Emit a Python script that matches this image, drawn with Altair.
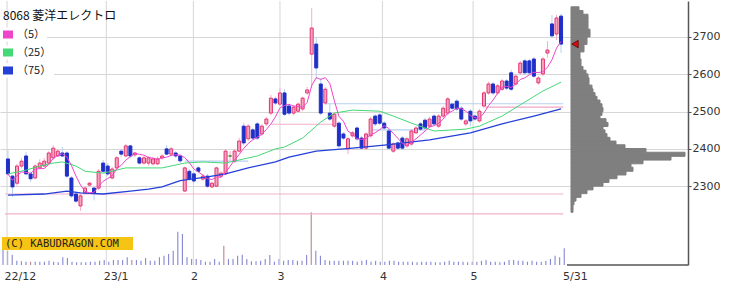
import altair as alt
import pandas as pd
import numpy as np

# ---------------- data ----------------
opens = [2373,2327,2308,2354,2381,2333,2322,2349,2354,2362,2376,2381,2389,2389,2322,2279,2247,2282,2303,2295,
         2295,2362,2354,2322,2349,2394,2381,2408,2384,2376,2362,2362,2360,2360,2376,2400,2386,2389,2381,2287,
         2340,2333,2349,2319,2327,2298,2300,2327,2333,2381,2367,2394,2461,2427,2451,2467,2440,2467,2496,2534,
         2520,2550,2515,2496,2501,2507,2550,2654,2681,2574,2523,2496,2461,2469,2440,2400,2435,2456,2429,2402,
         2435,2488,2491,2469,2448,2394,2416,2429,2408,2413,2443,2467,2477,2461,2488,2461,2488,2496,2520,2528,
         2509,2467,2501,2488,2475,2515,2550,2574,2550,2560,2582,2604,2574,2604,2636,2636,2641,2577,2601,2657,
         2735,2708,2756]
highs = [2397,2330,2360,2375,2392,2340,2358,2372,2375,2394,2410,2400,2405,2394,2327,2285,2279,2300,2312,2298,
         2346,2370,2362,2352,2381,2400,2413,2410,2392,2381,2381,2381,2378,2380,2386,2410,2405,2394,2386,2352,
         2346,2338,2354,2333,2333,2312,2352,2340,2400,2394,2400,2430,2470,2467,2456,2472,2467,2486,2545,2540,
         2563,2560,2520,2518,2525,2540,2566,2778,2697,2590,2566,2520,2498,2475,2445,2432,2448,2461,2435,2445,
         2486,2493,2496,2475,2453,2418,2421,2435,2432,2453,2461,2472,2483,2486,2493,2493,2515,2539,2525,2534,
         2515,2480,2507,2493,2507,2555,2580,2580,2574,2587,2587,2612,2600,2636,2641,2641,2646,2595,2646,2689,
         2759,2759,2762]
lows = [2327,2271,2300,2348,2330,2312,2318,2345,2350,2358,2370,2378,2378,2322,2268,2255,2234,2278,2298,2262,
        2290,2335,2327,2318,2345,2378,2378,2376,2378,2358,2358,2355,2355,2356,2370,2383,2381,2376,2362,2284,
        2314,2308,2335,2314,2295,2295,2298,2322,2330,2368,2362,2390,2410,2421,2424,2424,2435,2461,2490,2518,
        2515,2488,2490,2490,2496,2501,2545,2563,2587,2490,2518,2475,2455,2402,2424,2386,2430,2421,2397,2397,
        2430,2461,2464,2451,2397,2389,2397,2397,2402,2408,2440,2448,2451,2456,2461,2456,2483,2490,2504,2501,
        2475,2461,2461,2475,2470,2509,2545,2545,2545,2555,2558,2555,2569,2598,2598,2598,2590,2571,2595,2644,
        2697,2692,2657]
closes = [2333,2298,2354,2367,2333,2320,2354,2362,2367,2389,2402,2394,2381,2327,2274,2260,2274,2295,2308,2282,
          2340,2340,2333,2346,2376,2386,2408,2381,2389,2362,2376,2376,2373,2373,2381,2386,2400,2381,2368,2349,
          2319,2314,2340,2327,2300,2308,2349,2335,2394,2381,2394,2421,2416,2461,2429,2429,2461,2480,2536,2523,
          2550,2493,2496,2512,2520,2536,2558,2724,2617,2496,2560,2480,2493,2408,2429,2427,2443,2427,2402,2440,
          2480,2467,2469,2456,2402,2413,2402,2402,2427,2448,2456,2453,2456,2480,2467,2488,2509,2534,2509,2507,
          2480,2475,2475,2480,2501,2550,2574,2550,2569,2582,2563,2560,2595,2630,2604,2604,2595,2590,2641,2665,
          2703,2751,2681]
volumes = [240,215,155,65,55,50,50,50,50,50,65,50,40,115,105,50,40,40,40,50,
           50,65,75,50,75,75,75,115,75,75,65,105,65,65,115,140,165,215,500,465,
           115,90,90,75,50,50,90,50,290,90,90,140,155,90,55,55,65,90,150,50,
           90,65,75,75,65,65,150,790,215,140,75,65,65,65,65,65,65,50,65,75,
           50,65,50,50,65,65,50,50,50,50,40,50,50,50,40,40,50,65,50,50,
           50,40,50,50,65,75,50,50,40,50,75,75,65,65,50,65,50,50,65,90,
           140,115,250]
vol_brown_days = [6, 28, 48, 67]

ma25_days = [0,4,7,10,12,15,17,21,26,30,34,39,43,48,52,55,59,61,65,69,72,76,82,85,89,94,101,104,109,113,118,122]
ma25_vals = [2333,2343,2354,2362,2365,2354,2340,2335,2349,2349,2349,2362,2365,2362,2373,2381,2400,2405,2429,2472,
             2496,2504,2501,2488,2469,2448,2453,2461,2488,2518,2555,2579]
ma75_days = [0,8,13,16,21,27,31,34,38,44,48,53,59,62,68,76,83,93,102,109,116,122]
ma75_vals = [2276,2279,2287,2282,2279,2287,2292,2298,2315,2325,2333,2349,2365,2378,2394,2402,2410,2424,2443,2467,
             2488,2507]

month_pos = [-0.2, 21.7, 40.9, 60.0, 82.6, 102.6]
xtick_pos = month_pos + [123.0]
xtick_labels = ["22/12", "23/1", "2", "3", "4", "5", "5/31"]
y_ticks = [2300, 2400, 2500, 2600, 2700]

# price profile: lower edge of each 10-yen bin and its bar length
prof_low = [2770,2760,2750,2740,2730,2720,2710,2700,2690,2680,2670,2660,2650,2640,2630,2620,2610,2600,2590,2580,
            2570,2560,2550,2540,2530,2520,2510,2500,2490,2480,2470,2460,2450,2440,2430,2420,2410,2400,2390,2380,
            2370,2360,2350,2340,2330,2320,2310,2300,2290,2280,2270,2260,2250,2240,2230]
prof_vol = [8,12,17,17,17,17,19,19,16,16,13,13,9,9,10,10,12,15,17,18,
            18,21,22,24,26,29,31,32,31,29,35,37,32,34,36,39,45,54,75,114,
            100,72,60,62,55,46,38,32,22,16,10,5,3,2,2]

line_price = [2279, 2226, 2521, 2512, 2451, 2466, 2367]
line_from = [-0.65, -0.65, 70, 105.3, 80, 58, 39]
line_to = [122.5, 122.5, 122.5, 122.5, 92, 72, 53]
line_kind = ["pink", "pink", "blue", "band", "blue", "pink", "blue"]

ma_names = ["（5）", "（25）", "（75）"]
ma_colors = ["#f044cc", "#44d877", "#2440d8"]
title_text = "8068 菱洋エレクトロ"
copyright_text = "(C) KABUDRAGON.COM"

# ---------------- frames ----------------
n = len(closes)
o = np.array(opens); c = np.array(closes)
cdf = pd.DataFrame({
    "i": np.arange(n), "open": opens, "high": highs, "low": lows, "close": closes,
    "dir": np.where(c > o, "up", np.where(c < o, "down", "flat")),
})
vdf = pd.DataFrame({"i": np.arange(n), "vol": volumes,
                    "kind": ["b" if k in vol_brown_days else "a" for k in range(n)]})
m25 = pd.DataFrame({"i": ma25_days, "v": ma25_vals})
m75 = pd.DataFrame({"i": ma75_days, "v": ma75_vals})
gdf = pd.DataFrame({"pos": month_pos})
pdf = pd.DataFrame({"p0": prof_low, "len": prof_vol})
ldf = pd.DataFrame({"price": line_price, "x0": line_from, "x1": line_to, "kind": line_kind})
one = pd.DataFrame({"a": [0]})

XD = [-0.652, 148.9]
YD = [2088.7, 2796.5]
xs = alt.Scale(domain=XD, nice=False, zero=False)
ys = alt.Scale(domain=YD, nice=False, zero=False)

expr = ""
for k in range(len(xtick_pos) - 1):
    mid = (xtick_pos[k] + xtick_pos[k + 1]) / 2
    expr += f"datum.value < {mid} ? '{xtick_labels[k]}' : "
expr += f"'{xtick_labels[-1]}'"

xaxis = alt.Axis(orient="bottom", values=xtick_pos, labelExpr=expr, grid=False, domain=False, ticks=False,
                 labelAlign="left", labelOffset=-3, labelPadding=5, labelFont="DejaVu Sans", labelFontSize=11,
                 labelColor="#333333", title=None, labelOverlap=False, labelFlush=False, labelBound=False)
yaxis = alt.Axis(orient="right", values=y_ticks, grid=True, gridColor="#d6d6d6", gridWidth=1,
                 domain=True, domainColor="#555555", domainWidth=1.5, ticks=True, tickSize=3,
                 tickColor="#555555", labelPadding=1, labelFont="DejaVu Sans", labelFontSize=11,
                 labelColor="#333333", title=None, format="d", labelOverlap=False)

X = lambda f: alt.X(f, scale=xs, axis=xaxis)
Y = lambda f: alt.Y(f, scale=ys, axis=yaxis)

stroke_scale = alt.Scale(domain=["up", "down", "flat"], range=["#e2336f", "#1f2fc8", "#2a8a2a"])
fill_scale = alt.Scale(domain=["up", "down", "flat"], range=["#f7a3c2", "#1f2fc8", "#2a8a2a"])
line_scale = alt.Scale(domain=["pink", "blue", "band"], range=["#f4b0c9", "#b4d0f0", "#f0a6c4"])
width_scale = alt.Scale(domain=["pink", "blue", "band"], range=[1.2, 1.2, 5])

vgrid = alt.Chart(gdf).mark_rule(color="#d6d6d6", strokeWidth=1).encode(x=X("pos:Q"))
hlines = alt.Chart(ldf).mark_rule().encode(
    x=X("x0:Q"), x2="x1:Q", y=Y("price:Q"),
    color=alt.Color("kind:N", scale=line_scale, legend=None),
    strokeWidth=alt.StrokeWidth("kind:N", scale=width_scale, legend=None))
wicks = alt.Chart(cdf).mark_rule(strokeWidth=1).encode(
    x=X("i:Q"), y=Y("low:Q"), y2="high:Q",
    color=alt.Color("dir:N", scale=stroke_scale, legend=None))
bodies = alt.Chart(cdf).mark_bar(size=3, strokeWidth=1).encode(
    x=X("i:Q"), y=Y("open:Q"), y2="close:Q",
    fill=alt.Fill("dir:N", scale=fill_scale, legend=None),
    stroke=alt.Stroke("dir:N", scale=stroke_scale, legend=None))
ma5 = alt.Chart(cdf).transform_window(
    ma5="mean(close)", frame=[-4, 0], sort=[alt.SortField("i")]
).mark_line(color=ma_colors[0], strokeWidth=1).encode(x=X("i:Q"), y=Y("ma5:Q"))
ma25 = alt.Chart(m25).mark_line(color=ma_colors[1], strokeWidth=1).encode(x=X("i:Q"), y=Y("v:Q"))
ma75 = alt.Chart(m75).mark_line(color=ma_colors[2], strokeWidth=1.3).encode(x=X("i:Q"), y=Y("v:Q"))
marker = alt.Chart(cdf.tail(1)).mark_point(shape="triangle-left", filled=True, size=55,
                                           color="#cc1111", stroke="#6a0000", strokeWidth=0.8, opacity=1).encode(
    x=alt.value(575), y=Y("close:Q"))

price_group = alt.layer(vgrid, hlines, wicks, bodies, ma75, ma25, ma5, marker)

vol = alt.Chart(vdf).transform_calculate(z="0").mark_rule(strokeWidth=1.1).encode(
    x=alt.X("i:Q", scale=xs, axis=None),
    y=alt.Y("vol:Q", scale=alt.Scale(domain=[0, 3960], nice=False), axis=None),
    y2="z:Q",
    color=alt.Color("kind:N", scale=alt.Scale(domain=["a", "b"], range=["#8587d2", "#b98686"]), legend=None))

# each bin's rect is drawn a touch taller than its 10-yen bin so neighbouring bins overlap (no seams)
prof = alt.Chart(pdf).transform_calculate(z="0", p1="datum.p0 + 11").mark_rect(
    fill="#7f7f7f", stroke="#7f7f7f", strokeWidth=1, opacity=1).encode(
    x=alt.X("z:Q", scale=alt.Scale(domain=[-571, 117], nice=False, zero=False), axis=None),
    x2="len:Q",
    y=alt.Y("p0:Q", scale=ys, axis=None), y2="p1:Q")

frame_bottom = alt.Chart(one).mark_rule(color="#555555", strokeWidth=1.5).encode(
    x=alt.value(567), x2=alt.value(688), y=alt.value(264))

deco = [frame_bottom]
deco.append(alt.Chart(one).mark_text(align="left", baseline="middle", fontSize=12,
                                     font="Noto Sans CJK JP", color="#111111").encode(
    x=alt.value(3), y=alt.value(15), text=alt.value(title_text)))
row_w = [47, 54, 54]
for k in range(3):
    cy = 33.5 + 18 * k
    deco.append(alt.Chart(one).mark_rect(color="white").encode(
        x=alt.value(0), x2=alt.value(row_w[k]), y=alt.value(cy - 7), y2=alt.value(cy + 7)))
    deco.append(alt.Chart(one).mark_rect(color=ma_colors[k]).encode(
        x=alt.value(3), x2=alt.value(13), y=alt.value(cy - 4), y2=alt.value(cy + 4)))
    deco.append(alt.Chart(one).mark_text(align="left", baseline="middle", fontSize=11,
                                         font="Noto Sans CJK JP", color="#222222").encode(
        x=alt.value(17), y=alt.value(cy), text=alt.value(ma_names[k])))
deco.append(alt.Chart(one).mark_rect(color="#f6c412").encode(
    x=alt.value(2), x2=alt.value(133), y=alt.value(236), y2=alt.value(249)))
deco.append(alt.Chart(one).mark_text(align="left", baseline="middle", fontSize=10.5,
                                     font="DejaVu Sans Mono", color="#222222").encode(
    x=alt.value(5), y=alt.value(243), text=alt.value(copyright_text)))

chart = alt.layer(vol, prof, price_group, *deco).resolve_scale(
    x="independent", y="independent", color="independent", stroke="independent",
    fill="independent", strokeWidth="independent"
).properties(width=688, height=264, padding=0, background="white").configure_view(stroke=None)

chart.save("out.html", embed_options={"renderer": "svg", "actions": False})
